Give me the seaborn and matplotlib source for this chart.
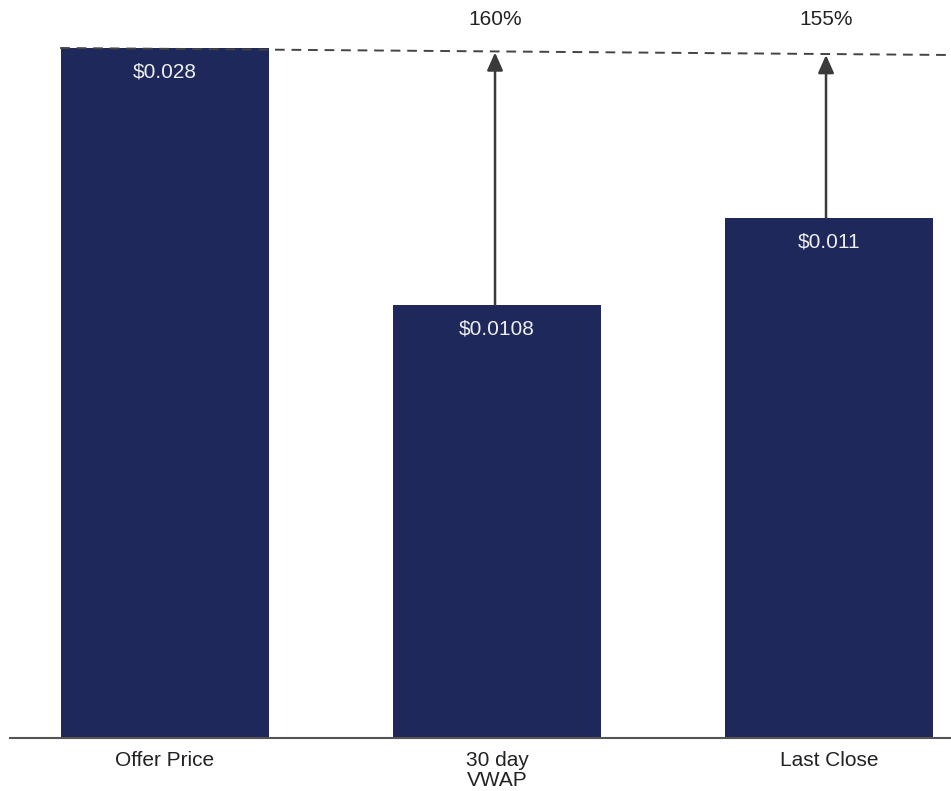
import matplotlib
matplotlib.use("Agg")
import matplotlib.pyplot as plt
import seaborn as sns
import pandas as pd

categories = ["Offer Price", "30 day\nVWAP", "Last Close"]
prices = [0.028, 0.0108, 0.011]
price_labels = ["$0.028", "$0.0108", "$0.011"]
# bar heights as drawn in the picture (the chart is not to scale)
drawn_heights = [0.0280, 0.01757, 0.0211]
premium_labels = ["", "160%", "155%"]

sns.set_theme(style="white")
plt.rcParams["font.family"] = ["Liberation Sans", "DejaVu Sans"]

df = pd.DataFrame({"category": categories, "height": drawn_heights})

fig = plt.figure(figsize=(9.51, 7.91), dpi=100)
ax = fig.add_axes([10 / 951, 53 / 791, 941 / 951, 738 / 791])

bar_color = "#1F285A"
sns.barplot(data=df, x="category", y="height", order=categories,
            color=bar_color, width=0.627, saturation=1, linewidth=0,
            edgecolor=bar_color, ax=ax)

ax.set_xlim(-0.467, 2.3675)
ax.set_ylim(0, 0.029948)

for s in ["top", "right", "left"]:
    ax.spines[s].set_visible(False)
ax.spines["bottom"].set_color("#555555")
ax.spines["bottom"].set_linewidth(1.5)
ax.set_yticks([])
ax.set_xlabel("")
ax.set_ylabel("")
ax.tick_params(axis="x", length=0, pad=9, labelsize=15, labelcolor="#222222")
for t in ax.get_xticklabels():
    t.set_linespacing(1.12)

# value labels inside bars
for i, (h, lab) in enumerate(zip(drawn_heights, price_labels)):
    ax.text(i, h - 0.00098, lab, ha="center", va="center",
            color="#EEEEEE", fontsize=15)

# dashed reference line from the offer price level
x0, x1 = -0.316, 2.3675
y0, y1 = 0.0280, 0.027716
ax.plot([x0, x1], [y0, y1], linestyle=(0, (5, 3.5)), color="#444444", lw=1.4,
        zorder=3)

def line_y(x):
    return y0 + (y1 - y0) * (x - x0) / (x1 - x0)

for i in [1, 2]:
    xi = i - 0.006 if i == 1 else i - 0.009
    top = line_y(xi) - 0.00004
    ax.annotate("", xy=(xi, top), xytext=(xi, drawn_heights[i]),
                arrowprops=dict(arrowstyle="-|>,head_length=0.9,head_width=0.4",
                                color="#3A3A3A", lw=1.8, shrinkA=0, shrinkB=0),
                zorder=4)
    ax.text(xi, 0.02914, premium_labels[i], ha="center", va="center",
            fontsize=15, color="#222222")

fig.savefig("out.png", dpi=100)
